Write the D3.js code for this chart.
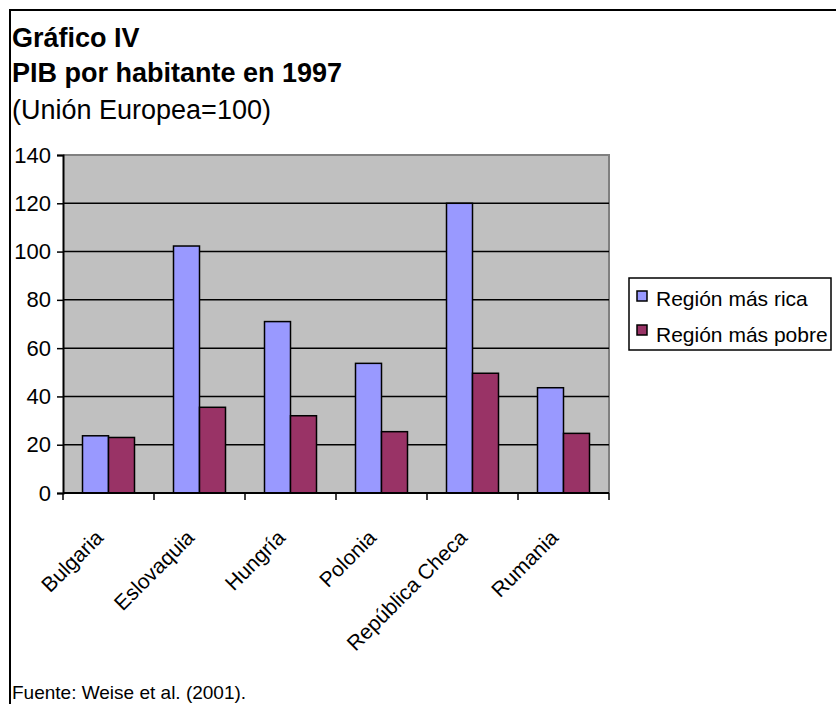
<!DOCTYPE html>
<html>
<head>
<meta charset="utf-8">
<script src="https://cdn.jsdelivr.net/npm/d3@7"></script>
<style>
  html, body { margin: 0; padding: 0; background: #fff; }
  svg { display: block; font-family: "Liberation Sans", Arial, sans-serif; }
</style>
</head>
<body>
<svg id="chart" width="836" height="704"></svg>
<script>
// PIB por habitante 1997 (UE = 100): región más rica y más pobre por país
const categories = ["Bulgaria", "Eslovaquia", "Hungría", "Polonia", "República Checa", "Rumania"];
const seriesNames = ["Región más rica", "Región más pobre"];
const richest = [23.7, 102.3, 71.0, 53.7, 120.0, 43.6];
const poorest = [23.0, 35.5, 32.0, 25.4, 49.6, 24.7];
const yTicks = [0, 20, 40, 60, 80, 100, 120, 140];
const seriesColors = ["#9999FF", "#993366"];

const svg = d3.select("#chart");

// outer frame
svg.append("rect")
  .attr("x", 10).attr("y", 10).attr("width", 900).attr("height", 800)
  .attr("fill", "none").attr("stroke", "#000").attr("stroke-width", 2);

// titles
svg.append("text").attr("x", 12).attr("y", 47)
  .attr("font-size", 27).attr("font-weight", "bold").text("Gráfico IV");
svg.append("text").attr("x", 12).attr("y", 82)
  .attr("font-size", 27).attr("font-weight", "bold").text("PIB por habitante en 1997");
svg.append("text").attr("x", 12).attr("y", 119)
  .attr("font-size", 27).text("(Unión Europea=100)");

// plot area
const plot = { left: 63, right: 609, top: 155, bottom: 493 };

const x0 = d3.scaleBand().domain(categories).range([plot.left, plot.right]).padding(0);
const x1 = d3.scaleBand().domain(seriesNames).range([0, x0.bandwidth()])
  .paddingInner(0).paddingOuter(0.75);
const y = d3.scaleLinear().domain([0, 140]).range([plot.bottom, plot.top]);

svg.append("rect")
  .attr("x", plot.left).attr("y", plot.top)
  .attr("width", plot.right - plot.left).attr("height", plot.bottom - plot.top)
  .attr("fill", "#C0C0C0");

// plot border (top & right in grey)
svg.append("path")
  .attr("d", `M${plot.left},${plot.top}H${plot.right}V${plot.bottom}`)
  .attr("fill", "none").attr("stroke", "#808080").attr("stroke-width", 2);

// horizontal gridlines
svg.append("g").selectAll("line")
  .data(yTicks.filter(t => t > 0 && t < 140))
  .join("line")
  .attr("x1", plot.left).attr("x2", plot.right)
  .attr("y1", d => y(d)).attr("y2", d => y(d))
  .attr("stroke", "#000").attr("stroke-width", 1.5);

// bars
const rows = categories.map((c, i) => ({ cat: c, vals: [richest[i], poorest[i]] }));
const groups = svg.append("g").selectAll("g")
  .data(rows).join("g")
  .attr("transform", d => `translate(${x0(d.cat)},0)`);
groups.selectAll("rect")
  .data(d => d.vals.map((v, k) => ({ key: seriesNames[k], v, k })))
  .join("rect")
  .attr("x", d => x1(d.key))
  .attr("width", x1.bandwidth())
  .attr("y", d => y(d.v))
  .attr("height", d => y(0) - y(d.v))
  .attr("fill", d => seriesColors[d.k])
  .attr("stroke", "#000").attr("stroke-width", 1.5);

// y axis
const yAxis = d3.axisLeft(y).tickValues(yTicks).tickSize(6).tickPadding(6);
const gy = svg.append("g").attr("transform", `translate(${plot.left},0)`).call(yAxis);
gy.select(".domain").attr("stroke", "#000").attr("stroke-width", 2);
gy.selectAll(".tick line").attr("stroke", "#000").attr("stroke-width", 1.5);
gy.selectAll(".tick text").attr("font-size", 22).attr("fill", "#000")
  .attr("font-family", "Liberation Sans, Arial, sans-serif");

// x axis: ticks at category boundaries
const gx = svg.append("g").attr("transform", `translate(0,${plot.bottom})`);
gx.append("line").attr("x1", plot.left).attr("x2", plot.right)
  .attr("stroke", "#000").attr("stroke-width", 2);
const bounds = categories.map(c => x0(c)).concat([x0.range()[1]]);
gx.selectAll("line.tk").data(bounds).join("line").attr("class", "tk")
  .attr("x1", d => d).attr("x2", d => d).attr("y1", 0).attr("y2", 7)
  .attr("stroke", "#000").attr("stroke-width", 1.5);
gx.selectAll("text").data(categories).join("text")
  .attr("transform", d => `translate(${x0(d) + x0.bandwidth() / 2 - 4},${46}) rotate(-45)`)
  .attr("text-anchor", "end")
  .attr("font-size", 21)
  .text(d => d);

// legend
const lg = svg.append("g");
lg.append("rect").attr("x", 629).attr("y", 278).attr("width", 202).attr("height", 72)
  .attr("fill", "#fff").attr("stroke", "#000").attr("stroke-width", 1.5);
seriesNames.forEach((s, k) => {
  lg.append("rect").attr("x", 637).attr("y", 291 + k * 34).attr("width", 10).attr("height", 10)
    .attr("fill", seriesColors[k]).attr("stroke", "#000").attr("stroke-width", 1.5);
  lg.append("text").attr("x", 656).attr("y", 306 + k * 36)
    .attr("font-size", 21).text(s);
});

// source
svg.append("text").attr("x", 12).attr("y", 699).attr("font-size", 19)
  .text("Fuente: Weise et al. (2001).");
</script>
</body>
</html>
